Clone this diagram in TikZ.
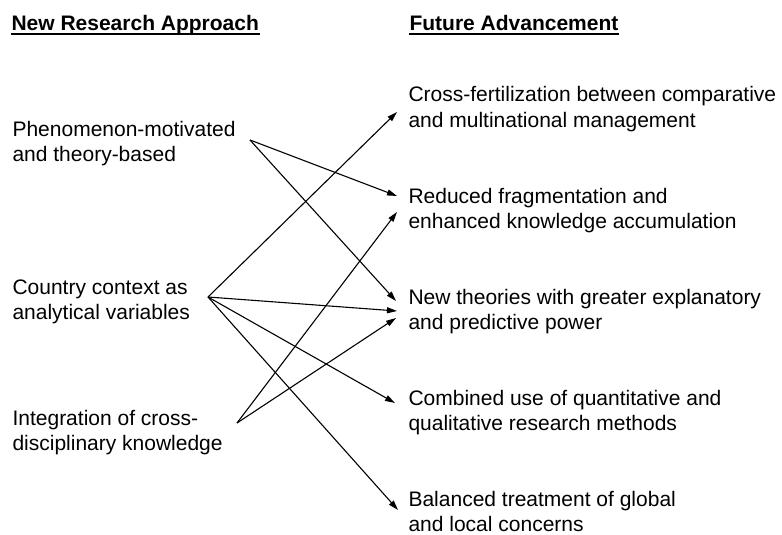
\documentclass[tikz,border=0pt]{standalone}
\usepackage{fontspec}
\setmainfont{Liberation Sans}
\usetikzlibrary{arrows.meta,calc}

\begin{document}
\begin{tikzpicture}[x=1pt,y=-1pt,
-{Triangle[length=10pt,width=6pt]}, line width=1.1pt,
item/.style ={align=left, inner sep=0pt, anchor=base west,
font=\fontsize{21}{25}\selectfont},
head/.style ={inner sep=0pt, anchor=base west,
font=\fontsize{21}{25}\selectfont\bfseries}]
\useasboundingbox (0,0) rectangle (782,535);
% column headings
\node[head] (H1) at (11,31) {New Research Approach};
\node[head] (H2) at (409,31) {Future Advancement};
\draw[-] ([yshift=-3pt]H1.base west) -- ([yshift=-3pt]H1.base east);
\draw[-] ([yshift=-3pt]H2.base west) -- ([yshift=-3pt]H2.base east);
% approaches (base = baseline of the last line)
\node[item] (phen) at (12,161) {Phenomenon-motivated\\and theory-based};
\node[item] (ctry) at (12,319) {Country context as\\analytical variables};
\node[item] (integ) at (12,450) {Integration of cross-\\disciplinary knowledge};
% advancements
\node[item] (fert) at (408,127) {Cross-fertilization between comparative\\and multinational management};
\node[item] (reduce) at (408,228) {Reduced fragmentation and\\enhanced knowledge accumulation};
\node[item] (theory) at (408,329) {New theories with greater explanatory\\and predictive power};
\node[item] (combine) at (408,430) {Combined use of quantitative and\\qualitative research methods};
\node[item] (balance) at (408,531) {Balanced treatment of global\\and local concerns};
\coordinate (phen-out) at (250,140);
\coordinate (ctry-out) at (208,297);
\coordinate (integ-out) at (237,423);
\draw (phen-out) -- ($(reduce.base west)+(-11,-32)$);
\draw (phen-out) -- ($(theory.base west)+(-12,-28)$);
\draw (ctry-out) -- ($(fert.base west)+(-11,-15)$);
\draw (ctry-out) -- ($(theory.base west)+(-11,-18)$);
\draw (ctry-out) -- ($(combine.base west)+(-13,-27)$);
\draw (ctry-out) -- ($(balance.base west)+(-10,-21)$);
\draw (integ-out) -- ($(reduce.base west)+(-11,-16)$);
\draw (integ-out) -- ($(theory.base west)+(-12,-11)$);
\end{tikzpicture}
\end{document}
